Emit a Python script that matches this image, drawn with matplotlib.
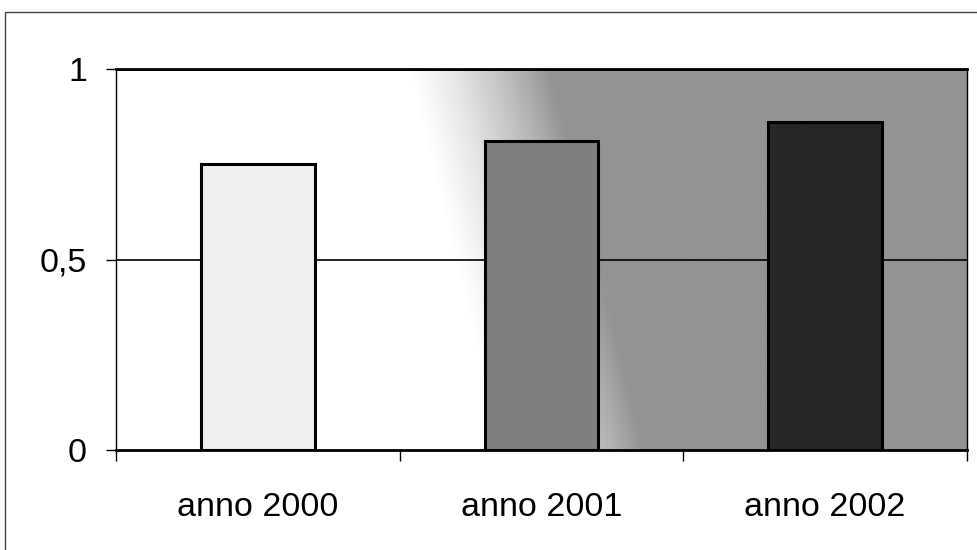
import numpy as np
import matplotlib
matplotlib.use("Agg")
import matplotlib.pyplot as plt
from matplotlib.patches import Rectangle

# dati
anni   = ["anno 2000", "anno 2001", "anno 2002"]
valori = [0.75, 0.81, 0.86]
colori = ["#efefef", "#7f7f7f", "#262626"]
yticks = [0, 0.5, 1]
ylabels = ["0", "0,5", "1"]

plt.rcParams['font.family'] = ['Liberation Sans', 'DejaVu Sans']

fig = plt.figure(figsize=(9.78, 5.5), dpi=100)
ax = fig.add_axes([116/978, 1 - 450/550, (967-116)/978, (450-69)/550])

# sfondo sfumato (bianco a sinistra, grigio a destra)
nx, ny = 400, 200
gx, gy = np.meshgrid(np.linspace(0, 1, nx), np.linspace(0, 1, ny))
t = np.clip((gx - (0.45 - 0.11 * gy)) / 0.17, 0, 1)
bg = 1.0 - 0.42 * t ** 1.3
ax.imshow(bg, cmap="gray", vmin=0, vmax=1, origin="lower",
          extent=[-0.5, 2.5, 0, 1], aspect="auto", zorder=0)

# griglia
for y in yticks[1:]:
    ax.axhline(y, color="black", lw=1.2 if y < 1 else 2.0, zorder=1)

x = np.arange(len(anni))
ax.bar(x, valori, width=0.4, color=colori, edgecolor="black", linewidth=2.2, zorder=2)

ax.set_xlim(-0.5, 2.5)
ax.set_ylim(0, 1)
ax.set_yticks(yticks)
ax.set_yticklabels(ylabels)
ax.set_xticks(x)
ax.set_xticklabels(anni)
ax.set_xticks([-0.5, 0.5, 1.5, 2.5], minor=True)
ax.tick_params(axis="x", which="major", length=0, pad=30, labelsize=24.5)
ax.tick_params(axis="x", which="minor", length=8, width=1, direction="out")
ax.tick_params(axis="y", length=7, width=1, pad=14, labelsize=24.5)

for s in ["left", "right"]:
    ax.spines[s].set_linewidth(1.0)
ax.spines["bottom"].set_linewidth(2.0)
ax.spines["top"].set_linewidth(2.0)

# cornice esterna (scansione)
fig.patches.append(Rectangle((5/978, -0.1), 1.2, 1 - 12/550 + 0.1, transform=fig.transFigure,
                             fill=False, edgecolor="#444444", linewidth=1.0))

fig.savefig("out.png", dpi=100)
